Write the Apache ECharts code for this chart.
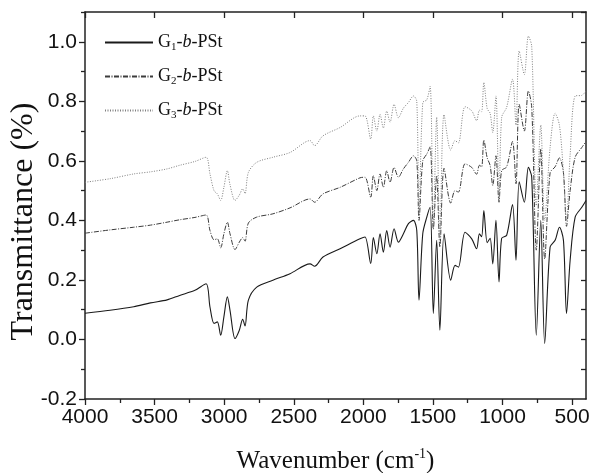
<!DOCTYPE html>
<html>
<head>
<meta charset="utf-8">
<script src="https://cdn.jsdelivr.net/npm/echarts@6/dist/echarts.min.js"></script>
<style>html,body{margin:0;padding:0;background:#fff}#c{width:593px;height:473px}</style>
</head>
<body>
<div id="c"></div>
<script>
// Wavenumbers (cm^-1), shared by the three spectra
var wavenumbers = [4000,3820,3650,3530,3410,3320,3210,3130,3102,3073,3049,3025,3002,2977,2958,2922,2891,2867,2850,2826,2766,2650,2527,2383,2350,2290,2167,2024,1988,1947,1928,1903,1880,1856,1832,1808,1779,1748,1712,1676,1640,1616,1600,1573,1544,1520,1497,1473,1450,1420,1372,1341,1317,1269,1221,1186,1166,1150,1134,1110,1089,1070,1047,1025,1006,970,928,903,880,843,814,790,757,725,697,658,622,591,562,540,514,478,430,400];
var g1 = [0.088,0.098,0.110,0.123,0.133,0.148,0.165,0.187,0.109,0.054,0.059,0.014,0.076,0.143,0.098,0.003,0.031,0.068,0.045,0.132,0.176,0.199,0.221,0.254,0.246,0.277,0.305,0.338,0.344,0.255,0.342,0.288,0.355,0.293,0.366,0.310,0.372,0.327,0.355,0.389,0.400,0.366,0.132,0.355,0.411,0.444,0.087,0.333,0.031,0.355,0.199,0.249,0.243,0.360,0.338,0.305,0.355,0.345,0.433,0.325,0.340,0.254,0.400,0.193,0.340,0.350,0.453,0.266,0.530,0.461,0.578,0.545,0.014,0.400,-0.013,0.310,0.333,0.377,0.333,0.087,0.266,0.411,0.444,0.467];
var g2 = [0.357,0.368,0.377,0.384,0.394,0.402,0.410,0.418,0.366,0.335,0.338,0.308,0.355,0.394,0.355,0.302,0.327,0.342,0.330,0.391,0.411,0.422,0.442,0.472,0.461,0.489,0.511,0.543,0.545,0.478,0.550,0.500,0.556,0.511,0.567,0.528,0.578,0.545,0.573,0.595,0.617,0.600,0.400,0.600,0.623,0.647,0.370,0.550,0.310,0.575,0.458,0.500,0.495,0.590,0.578,0.555,0.585,0.580,0.670,0.610,0.585,0.517,0.617,0.461,0.567,0.580,0.665,0.523,0.790,0.700,0.835,0.780,0.300,0.640,0.270,0.560,0.580,0.610,0.560,0.380,0.500,0.612,0.645,0.665];
var g3 = [0.528,0.540,0.556,0.563,0.573,0.585,0.598,0.612,0.556,0.500,0.489,0.467,0.511,0.567,0.520,0.467,0.485,0.506,0.490,0.561,0.595,0.612,0.628,0.668,0.651,0.684,0.712,0.751,0.751,0.673,0.751,0.700,0.756,0.710,0.767,0.730,0.790,0.745,0.777,0.796,0.818,0.800,0.420,0.796,0.805,0.850,0.380,0.746,0.340,0.755,0.636,0.668,0.660,0.782,0.768,0.735,0.770,0.765,0.863,0.775,0.760,0.695,0.818,0.462,0.746,0.780,0.874,0.720,0.969,0.890,1.019,0.985,0.450,0.720,0.400,0.645,0.760,0.720,0.560,0.400,0.620,0.818,0.820,0.835];
var seriesNames = ['G1-b-PSt','G2-b-PSt','G3-b-PSt'];
var seriesSubs = ['1','2','3'];
var xMajorTicks = [4000,3500,3000,2500,2000,1500,1000,500];
var xMinorTicks = [3750,3250,2750,2250,1750,1250,750];
var yMajorTicks = [-0.2,0,0.2,0.4,0.6,0.8,1.0];
var yMinorTicks = [-0.1,0.1,0.3,0.5,0.7,0.9,1.1];
var yRightTicks = [-0.1,0,0.1,0.2,0.3,0.4,0.5,0.6,0.7,0.8,0.9,1.0,1.1];

function pairs(ys){ return wavenumbers.map(function(w,i){ return [w, ys[i]]; }); }

var axisColor = '#222';
var chart = echarts.init(document.getElementById('c'), null, {renderer:'canvas'});
var common = {min:400, max:4000, inverse:true, type:'value', splitLine:{show:false}, gridIndex:0};
chart.setOption({
  animation:false,
  backgroundColor:'#fff',
  grid:{left:85, top:12, right:7, bottom:74, containLabel:false, outerBoundsMode:'none'},
  legend:{
    orient:'vertical', left:99, top:27, itemWidth:48, itemHeight:14, itemGap:13,
    data: seriesNames,
    itemStyle:{opacity:0},
    formatter:function(name){
      var i = seriesNames.indexOf(name);
      return '{n|G}{s|' + seriesSubs[i] + '}{n|-}{i|b}{n|-PSt}';
    },
    textStyle:{
      color:'#111', fontFamily:'Liberation Serif',
      rich:{
        n:{fontSize:18, fontFamily:'Liberation Serif', color:'#111', lineHeight:20},
        i:{fontSize:18, fontFamily:'Liberation Serif', fontStyle:'italic', color:'#111', lineHeight:20},
        s:{fontSize:11, fontFamily:'Liberation Serif', color:'#111', lineHeight:20, padding:[10,0,0,0]}
      }
    }
  },
  xAxis:[
    Object.assign({}, common, {
      position:'bottom',
      axisLine:{show:true, onZero:false, lineStyle:{color:axisColor, width:1.5}},
      axisTick:{show:true, inside:false, length:6, customValues:xMajorTicks, lineStyle:{color:axisColor, width:1.3}},
      axisLabel:{show:true, customValues:xMajorTicks, margin:8, fontSize:21, fontFamily:'Liberation Sans', color:'#111',
        formatter:function(v){ return String(v); }},
      name:'{n|Wavenumber (cm}{sup|-1}{n|)}', nameLocation:'middle', nameGap:48, nameMoveOverlap:false,
      nameTextStyle:{rich:{
        n:{fontSize:25, fontFamily:'Liberation Serif', color:'#111', lineHeight:28},
        sup:{fontSize:14, fontFamily:'Liberation Serif', color:'#111', lineHeight:28, padding:[0,0,13,0]}
      }}
    }),
    Object.assign({}, common, {
      position:'bottom',
      axisLine:{show:false, onZero:false},
      axisTick:{show:true, inside:false, length:4, customValues:xMinorTicks, lineStyle:{color:axisColor, width:1.3}},
      axisLabel:{show:false}
    }),
    Object.assign({}, common, {
      position:'top',
      axisLine:{show:true, onZero:false, lineStyle:{color:axisColor, width:1.5}},
      axisTick:{show:true, inside:true, length:6, customValues:xMajorTicks, lineStyle:{color:axisColor, width:1.3}},
      axisLabel:{show:false}
    })
  ],
  yAxis:[
    {
      type:'value', min:-0.2, max:1.1, position:'left', splitLine:{show:false},
      axisLine:{show:true, onZero:false, lineStyle:{color:axisColor, width:1.5}},
      axisTick:{show:true, inside:false, length:6, customValues:yMajorTicks, lineStyle:{color:axisColor, width:1.3}},
      axisLabel:{show:true, customValues:yMajorTicks, margin:8, fontSize:21, fontFamily:'Liberation Sans', color:'#111',
        formatter:function(v){ return v.toFixed(1); }},
      name:'Transmittance (%)', nameLocation:'middle', nameGap:45, nameMoveOverlap:false,
      nameTextStyle:{fontSize:32, fontFamily:'Liberation Serif', color:'#111', padding:[0,32,0,0]}
    },
    {
      type:'value', min:-0.2, max:1.1, position:'left', splitLine:{show:false},
      axisLine:{show:false, onZero:false},
      axisTick:{show:true, inside:false, length:4, customValues:yMinorTicks, lineStyle:{color:axisColor, width:1.3}},
      axisLabel:{show:false}
    },
    {
      type:'value', min:-0.2, max:1.1, position:'right', splitLine:{show:false},
      axisLine:{show:true, onZero:false, lineStyle:{color:axisColor, width:1.5}},
      axisTick:{show:true, inside:true, length:5, customValues:yRightTicks, lineStyle:{color:axisColor, width:1.3}},
      axisLabel:{show:false}
    }
  ],
  series:[
    {name:seriesNames[0], type:'line', xAxisIndex:0, yAxisIndex:0, data:pairs(g1), symbol:'none', smooth:0.3,
      lineStyle:{color:'#1a1a1a', width:1.1, type:'solid'}, itemStyle:{color:'#1a1a1a'}},
    {name:seriesNames[1], type:'line', xAxisIndex:0, yAxisIndex:0, data:pairs(g2), symbol:'none', smooth:0.3,
      lineStyle:{color:'#3c3c3c', width:1, type:[5,1.5,1,1.5]}, itemStyle:{color:'#3c3c3c'}},
    {name:seriesNames[2], type:'line', xAxisIndex:0, yAxisIndex:0, data:pairs(g3), symbol:'none', smooth:0.3,
      lineStyle:{color:'#808080', width:1, type:[1,1.5]}, itemStyle:{color:'#808080'}}
  ]
});
</script>
</body>
</html>
